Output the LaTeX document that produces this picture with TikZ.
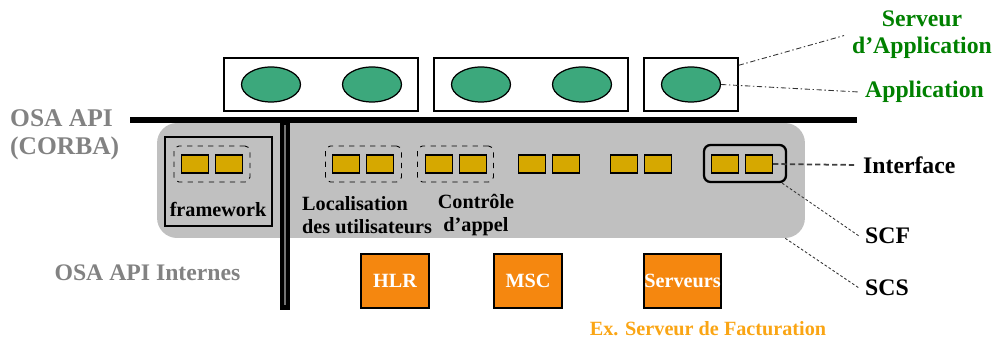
\documentclass[tikz,border=0pt]{standalone}
\usepackage{fontspec}
\setmainfont{Liberation Serif}
\usetikzlibrary{positioning, shapes.geometric}
\newcommand{\pxunit}{0.02cm}
\newcommand{\innerfont}{\fontsize{11.5}{13.2}\selectfont\bfseries}
\newcommand{\sidefont}{\fontsize{13.5}{15.3}\selectfont\bfseries}
\definecolor{scsgray}{RGB}{192,192,192}
\definecolor{appgreen}{RGB}{60,168,124}
\definecolor{labelgreen}{RGB}{0,128,0}
\definecolor{ifaceyellow}{RGB}{214,168,0}
\definecolor{nodeorange}{RGB}{245,135,15}
\definecolor{noteorange}{RGB}{250,165,20}
\definecolor{apigray}{RGB}{130,130,130}
\tikzset{
    srvbox/.style={draw, fill=white, line width=0.8pt, minimum height=1.06cm, inner sep=0pt},
    appoval/.style={ellipse, draw, fill=appgreen, line width=0.7pt, minimum width=1.18cm, minimum height=0.7cm, inner sep=0pt},
    scsbox/.style={fill=scsgray, rounded corners=0.4cm, minimum width=12.96cm, minimum height=2.3cm, inner sep=0pt},
    fwbox/.style={draw, fill=scsgray, line width=0.6pt, minimum width=2.14cm, minimum height=1.78cm, inner sep=0pt},
    ifacesq/.style={draw, fill=ifaceyellow, line width=0.6pt, minimum width=0.54cm, minimum height=0.36cm, inner sep=0pt},
    grpbox/.style={draw, dashed, line width=0.5pt, rounded corners=0.1cm, minimum width=1.52cm, minimum height=0.72cm, inner sep=0pt},
    ifacebox/.style={draw, line width=1.3pt, rounded corners=0.13cm, minimum width=1.64cm, minimum height=0.74cm, inner sep=0pt},
    resbox/.style={draw, fill=nodeorange, line width=0.7pt, text=white, font=\innerfont, minimum width=1.36cm, minimum height=1.08cm, inner sep=0pt},
    sidelbl/.style={font=\sidefont, anchor=west},
    dashdot/.style={draw=black!80, line width=0.5pt, dash pattern=on 3pt off 1.5pt on 0.8pt off 1.5pt},
    ifaceline/.style={draw=black!75, line width=1pt, dash pattern=on 3pt off 1.8pt},
    finedash/.style={draw=black!80, line width=0.5pt, dash pattern=on 1.5pt off 1.2pt},
}

\begin{document}
\begin{tikzpicture}[x=\pxunit, y=-\pxunit]
    \useasboundingbox (0,0) rectangle (994,340);

    % SCS block and framework
    \node[scsbox] (scs) at (481,180.5) {};
    \node[fwbox] (fw) at (218.5,181.5) {};

    % API bus
    \coordinate (busw) at (130,120);
    \coordinate (buse) at (857,120);
    \coordinate (vtop) at (285,120);
    \coordinate (vbot) at (285,310);
    \draw[line width=3.4pt] (busw) -- (buse);
    \draw[line width=5.7pt] (vtop) -- (vbot);
    \draw[line width=1.1pt, black!55] ([yshift=-0.1cm]vtop) -- ([yshift=0.1cm]vbot);

    % application servers
    \node[srvbox, minimum width=3.88cm] (srv1) at (321,84.5) {};
    \node[srvbox, minimum width=3.88cm] (srv2) at (531,84.5) {};
    \node[srvbox, minimum width=1.88cm] (srv3) at (691,84.5) {};
    \foreach \c [count=\i] in {271,372,481,582,691}
        \node[appoval] (app\i) at (\c,84.5) {};

    % interfaces
    \node[grpbox] (fwgrp) at (212,164) {};
    \node[grpbox] (locgrp) at (363.5,164) {};
    \node[grpbox] (ctlgrp) at (455.5,164) {};
    \node[ifacebox] (ifacegrp) at (745,163.5) {};
    \foreach \c/\n in {212/fw, 363/loc, 456/ctl, 549/sa, 641/sb, 742/iface} {
        \node[ifacesq] (\n-a) at (\c-17,164) {};
        \node[ifacesq] (\n-b) at (\c+17,164) {};
    }

    \node[font=\innerfont] (fwlabel) at (218,209) {framework};
    \node[font=\innerfont, align=left, anchor=west] (loclabel) at (296,215) {Localisation\\des utilisateurs};
    \node[font=\innerfont, align=center] (ctllabel) at (476,215) {Contrôle\\d’appel};

    % resources
    \node[resbox] (hlr) at (395,281) {HLR};
    \node[resbox] (msc) at (528,281) {MSC};
    \node[resbox, minimum width=1.54cm] (serveurs) at (682.5,281) {Serveurs};
    \node[font=\innerfont, text=noteorange] (facturation) at (708,329) {Ex. Serveur de Facturation};

    % API labels
    \node[font=\fontsize{14.5}{16}\selectfont\bfseries, text=apigray, align=left, anchor=west] (osaapi) at (4,135) {OSA API\\(CORBA)};
    \node[font=\sidefont, text=apigray] (osaint) at (147.5,273) {OSA API Internes};

    % side labels
    \node[sidelbl, anchor=center, align=center, text=labelgreen] (lblsrv) at (922,35) {Serveur\\d’Application};
    \node[sidelbl, text=labelgreen] (lblapp) at (859,92) {Application};
    \node[sidelbl] (lbliface) at (857,165) {Interface};
    \node[sidelbl] (lblscf) at (859,236) {SCF};
    \node[sidelbl] (lblscs) at (859,288) {SCS};

    \draw[dashdot, shorten >=0.04cm] ([yshift=-0.16cm]srv3.north east) -- (lblsrv.west);
    \draw[dashdot] (app5.east) -- (lblapp.west);
    \draw[ifaceline] (iface-b.east) -- (lbliface.west);
    \draw[finedash] ([xshift=-0.1cm]ifacegrp.south east) -- (lblscf.west);
    \draw[finedash] ([xshift=-0.4cm]scs.south east) -- (lblscs.west);
\end{tikzpicture}
\end{document}
